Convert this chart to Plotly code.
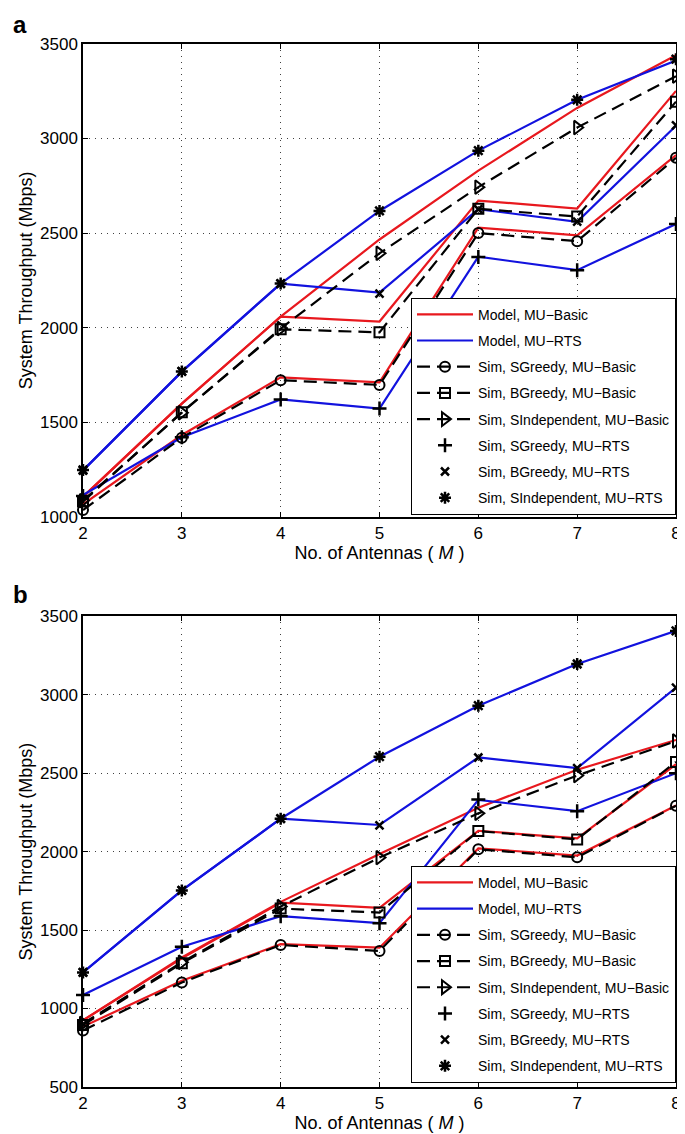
import plotly.graph_objects as go

antennas = [2, 3, 4, 5, 6, 7, 8]

# ---- panel a (Mbps) ----
a_model_basic_sgreedy = [1065, 1432, 1737, 1710, 2529, 2488, 2913]
a_model_basic_bgreedy = [1105, 1598, 2058, 2032, 2672, 2630, 3252]
a_model_basic_sindep = [1105, 1598, 2058, 2466, 2830, 3162, 3440]
a_model_rts_sgreedy = [1115, 1420, 1620, 1572, 2375, 2304, 2548]
a_model_rts_bgreedy = [1245, 1767, 2233, 2185, 2626, 2560, 3068]
a_model_rts_sindep = [1245, 1767, 2233, 2617, 2936, 3205, 3412]

a_sim_basic_sgreedy = [1035, 1418, 1722, 1697, 2500, 2457, 2898]
a_sim_basic_bgreedy = [1080, 1552, 1991, 1975, 2628, 2588, 3195]
a_sim_basic_sindep = [1085, 1550, 1995, 2393, 2743, 3058, 3330]
a_sim_rts_sgreedy = [1110, 1420, 1620, 1572, 2374, 2304, 2548]
a_sim_rts_bgreedy = [1244, 1768, 2233, 2180, 2626, 2560, 3070]
a_sim_rts_sindep = [1247, 1768, 2233, 2617, 2936, 3205, 3420]

# ---- panel b ----
b_model_basic_sgreedy = [885, 1177, 1410, 1388, 2021, 1975, 2294]
b_model_basic_bgreedy = [925, 1320, 1675, 1642, 2133, 2085, 2557]
b_model_basic_sindep = [925, 1325, 1680, 1985, 2280, 2522, 2712]
b_model_rts_sgreedy = [1087, 1394, 1589, 1544, 2330, 2258, 2500]
b_model_rts_bgreedy = [1230, 1753, 2210, 2170, 2600, 2532, 3045]
b_model_rts_sindep = [1230, 1753, 2210, 2605, 2930, 3196, 3407]

b_sim_basic_sgreedy = [860, 1166, 1405, 1367, 2015, 1964, 2292]
b_sim_basic_bgreedy = [895, 1289, 1637, 1612, 2131, 2078, 2572]
b_sim_basic_sindep = [905, 1295, 1650, 1962, 2244, 2485, 2705]
b_sim_rts_sgreedy = [1087, 1394, 1589, 1544, 2332, 2258, 2500]
b_sim_rts_bgreedy = [1230, 1753, 2210, 2168, 2600, 2532, 3045]
b_sim_rts_sindep = [1230, 1753, 2210, 2605, 2930, 3196, 3407]

schemes = ['SGreedy', 'BGreedy', 'SIndependent']
MINUS = '\u2212'

RED = 'rgb(232,24,30)'
BLUE = 'rgb(18,18,222)'
FONT = 'Liberation Sans, Arial, sans-serif'

basic_symbols = ['circle-open', 'square-open', 'triangle-right-open']
basic_sizes = [10, 10, 12]
rts_symbols = ['cross-thin-open', 'x-thin-open', 'asterisk-open']
rts_sizes = [10, 8, 10]


def add_panel(fig, xa, ya, legend, model_basic, model_rts, sim_basic, sim_rts, tag):
    for i, ys in enumerate(model_basic):
        fig.add_trace(go.Scatter(x=antennas, y=ys, mode='lines', line=dict(color=RED, width=2.2),
                                 name='Model, MU' + MINUS + 'Basic', legendgroup=tag + 'mb',
                                 showlegend=(i == 0), xaxis=xa, yaxis=ya, legend=legend))
    for i, ys in enumerate(model_rts):
        fig.add_trace(go.Scatter(x=antennas, y=ys, mode='lines', line=dict(color=BLUE, width=2.2),
                                 name='Model, MU' + MINUS + 'RTS', legendgroup=tag + 'mr',
                                 showlegend=(i == 0), xaxis=xa, yaxis=ya, legend=legend))
    for i, ys in enumerate(sim_basic):
        fig.add_trace(go.Scatter(x=antennas, y=ys, mode='lines+markers',
                                 line=dict(color='black', width=2.2, dash='13px,7px'),
                                 marker=dict(symbol=basic_symbols[i], size=basic_sizes[i], color='black',
                                             line=dict(width=2, color='black')),
                                 name='Sim, ' + schemes[i] + ', MU' + MINUS + 'Basic',
                                 legendgroup=tag + 'sb' + str(i), cliponaxis=False,
                                 xaxis=xa, yaxis=ya, legend=legend))
    for i, ys in enumerate(sim_rts):
        fig.add_trace(go.Scatter(x=antennas, y=ys, mode='markers',
                                 marker=dict(symbol=rts_symbols[i], size=rts_sizes[i], color='black',
                                             line=dict(width=2.5, color='black')),
                                 name='Sim, ' + schemes[i] + ', MU' + MINUS + 'RTS',
                                 legendgroup=tag + 'sr' + str(i), cliponaxis=False,
                                 xaxis=xa, yaxis=ya, legend=legend))


fig = go.Figure()
add_panel(fig, 'x', 'y', 'legend',
          [a_model_basic_sgreedy, a_model_basic_bgreedy, a_model_basic_sindep],
          [a_model_rts_sgreedy, a_model_rts_bgreedy, a_model_rts_sindep],
          [a_sim_basic_sgreedy, a_sim_basic_bgreedy, a_sim_basic_sindep],
          [a_sim_rts_sgreedy, a_sim_rts_bgreedy, a_sim_rts_sindep], 'a')
add_panel(fig, 'x2', 'y2', 'legend2',
          [b_model_basic_sgreedy, b_model_basic_bgreedy, b_model_basic_sindep],
          [b_model_rts_sgreedy, b_model_rts_bgreedy, b_model_rts_sindep],
          [b_sim_basic_sgreedy, b_sim_basic_bgreedy, b_sim_basic_sindep],
          [b_sim_rts_sgreedy, b_sim_rts_bgreedy, b_sim_rts_sindep], 'b')

axis_style = dict(showline=True, linecolor='black', linewidth=1.5, mirror='allticks',
                  ticks='inside', ticklen=5, tickcolor='black', tickwidth=1,
                  showgrid=True, gridcolor='rgba(0,0,0,0.75)', griddash='1px,5px', gridwidth=1,
                  zeroline=False, tickfont=dict(size=17, color='black'))
xtitle = dict(text='No. of Antennas ( <i>M</i> )', font=dict(size=18, color='black'), standoff=4)
ytitle = dict(text='System Throughput (Mbps)', font=dict(size=18, color='black'), standoff=3)

legend_style = dict(font=dict(size=14, color='black', family=FONT), bgcolor='white',
                    bordercolor='black', borderwidth=1, tracegroupgap=5, itemwidth=56,
                    xanchor='right', x=1.0, yanchor='bottom')

fig.update_layout(
    width=685, height=1134,
    margin=dict(l=75, r=12, t=36, b=50),
    paper_bgcolor='white', plot_bgcolor='white',
    font=dict(family=FONT, color='black'),
    xaxis=dict(axis_style, domain=[0, 1], range=[2, 8], dtick=1, anchor='y', title=xtitle),
    yaxis=dict(axis_style, domain=[0.5468, 1], range=[1000, 3500], dtick=500, anchor='x', title=ytitle),
    xaxis2=dict(axis_style, domain=[0, 1], range=[2, 8], dtick=1, anchor='y2', title=xtitle),
    yaxis2=dict(axis_style, domain=[0, 0.4513], range=[500, 3500], dtick=500, anchor='x2', title=ytitle),
    legend=dict(legend_style, y=0.5487),
    legend2=dict(legend_style, y=0.004),
    annotations=[
        dict(text='<b>a</b>', xref='paper', yref='paper', x=-0.12, y=1.033,
             xanchor='left', yanchor='top', borderpad=0, showarrow=False,
             font=dict(size=24, color='black')),
        dict(text='<b>b</b>', xref='paper', yref='paper', x=-0.12, y=0.4857,
             xanchor='left', yanchor='top', borderpad=0, showarrow=False,
             font=dict(size=24, color='black')),
    ],
)

fig.write_html('out.html')
